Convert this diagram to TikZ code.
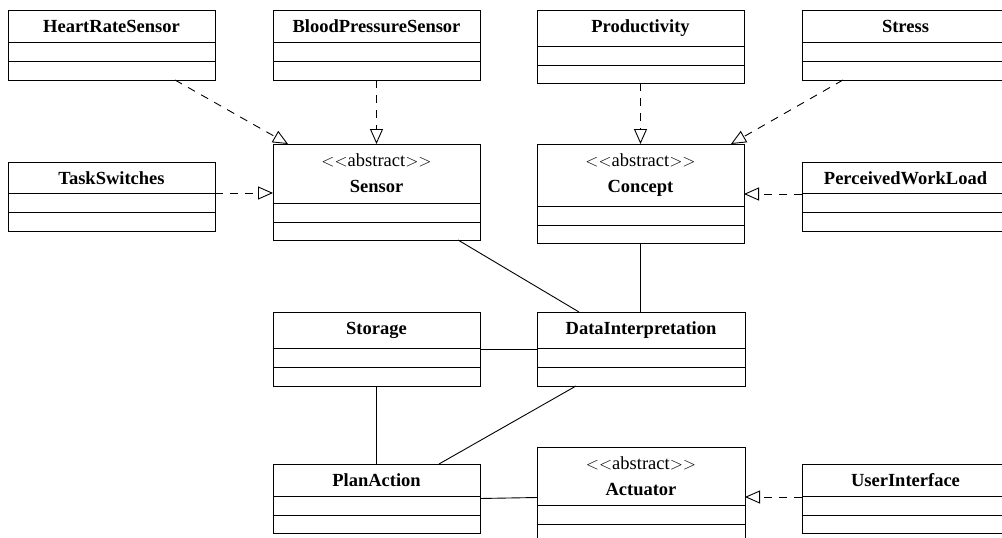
\documentclass[tikz,border=0pt]{standalone}
\usepackage{fontspec}
\setmainfont{Liberation Serif}
\usetikzlibrary{arrows.meta}
\tikzset{
  classbox/.style={draw, line width=0.9pt, inner sep=0pt, outer sep=0pt, anchor=north west},
  classtitle/.style={font=\fontsize{18.5}{22}\selectfont\bfseries, anchor=base, inner sep=0pt},
  stereo/.style={font=\fontsize{18.5}{22}\selectfont, anchor=base, inner sep=0pt},
  compsep/.style={line width=0.9pt},
  realize/.style={draw, line width=0.9pt, dash pattern=on 8pt off 7pt,
    -{Triangle[open, length=15pt, width=13pt, line width=0.9pt]}},
  assoc/.style={draw, line width=0.9pt},
}
\newcommand{\umlclass}[8]{%
  \node[classbox, minimum width={(#4-#2)*1pt}, minimum height={(#5-#3)*1pt}] (#1) at (#2,#3) {};
  \draw[compsep] (#2,#6) -- (#4,#6);
  \draw[compsep] (#2,#7) -- (#4,#7);
  \node[classtitle] (#1-name) at ({(#2+#4)/2},{#3+22.5}) {#8};
}
\newcommand{\umlabstract}[8]{%
  \node[classbox, minimum width={(#4-#2)*1pt}, minimum height={(#5-#3)*1pt}] (#1) at (#2,#3) {};
  \draw[compsep] (#2,#6) -- (#4,#6);
  \draw[compsep] (#2,#7) -- (#4,#7);
  \node[stereo] (#1-stereo) at ({(#2+#4)/2},{#3+22}) {$<<$abstract$>>$};
  \node[classtitle] (#1-name) at ({(#2+#4)/2},{#3+48.5}) {#8};
}
\begin{document}
\begin{tikzpicture}[x=1pt,y=-1pt]
\useasboundingbox (0,0) rectangle (1002,538);
\clip (0,0) rectangle (1002,538);
% classes
\umlclass{hrs}{8}{10}{215}{80}{42}{61}{HeartRateSensor}
\umlclass{bps}{273}{10}{480}{80}{42}{61}{BloodPressureSensor}
\umlclass{prod}{537}{10}{744}{83}{46}{65}{Productivity}
\umlclass{stress}{802}{10}{1009}{80}{42}{61}{Stress}
\umlclass{ts}{8}{162}{215}{231}{193}{212}{TaskSwitches}
\umlabstract{sensor}{273}{144}{480}{240}{203}{222}{Sensor}
\umlabstract{concept}{537}{144}{744}{243}{206}{225}{Concept}
\umlclass{pwl}{802}{162}{1009}{231}{193}{212}{PerceivedWorkLoad}
\umlclass{storage}{273}{312}{480}{386}{348}{367}{Storage}
\umlclass{di}{537}{312}{745}{386}{348}{367}{DataInterpretation}
\umlclass{plan}{273}{464}{480}{533}{496}{515}{PlanAction}
\umlabstract{act}{537}{447}{745}{546}{505}{524}{Actuator}
\umlclass{ui}{802}{464}{1009}{533}{496}{515}{UserInterface}
% realizations
\draw[realize] ([xshift=63.5pt]hrs.south) -- ([xshift=-88.5pt]sensor.north);
\draw[realize] (bps.south) -- (sensor.north);
\coordinate (tsout) at ([yshift=3.5pt]ts.east);
\draw[realize] (tsout) -- (tsout -| sensor.west);
\draw[realize] (prod.south) -- (concept.north);
\draw[realize] ([xshift=-62.5pt]stress.south) -- ([xshift=90.5pt]concept.north);
\coordinate (pwlout) at ([yshift=2.5pt]pwl.west);
\draw[realize] (pwlout) -- (pwlout -| concept.east);
\coordinate (uiout) at ([yshift=1.5pt]ui.west);
\draw[realize] (uiout) -- (uiout -| act.east);
% associations
\draw[assoc] ([xshift=81.5pt]sensor.south) -- ([xshift=-62pt]di.north);
\draw[assoc] (concept.south) -- (concept.south |- di.north);
\draw[assoc] (storage.east) -- (di.west);
\draw[assoc] (storage.south) -- (plan.north);
\draw[assoc] ([xshift=-65pt]di.south) -- ([xshift=62.5pt]plan.north);
\draw[assoc] (plan.east) -- ([yshift=-1pt]act.west);
\end{tikzpicture}
\end{document}
